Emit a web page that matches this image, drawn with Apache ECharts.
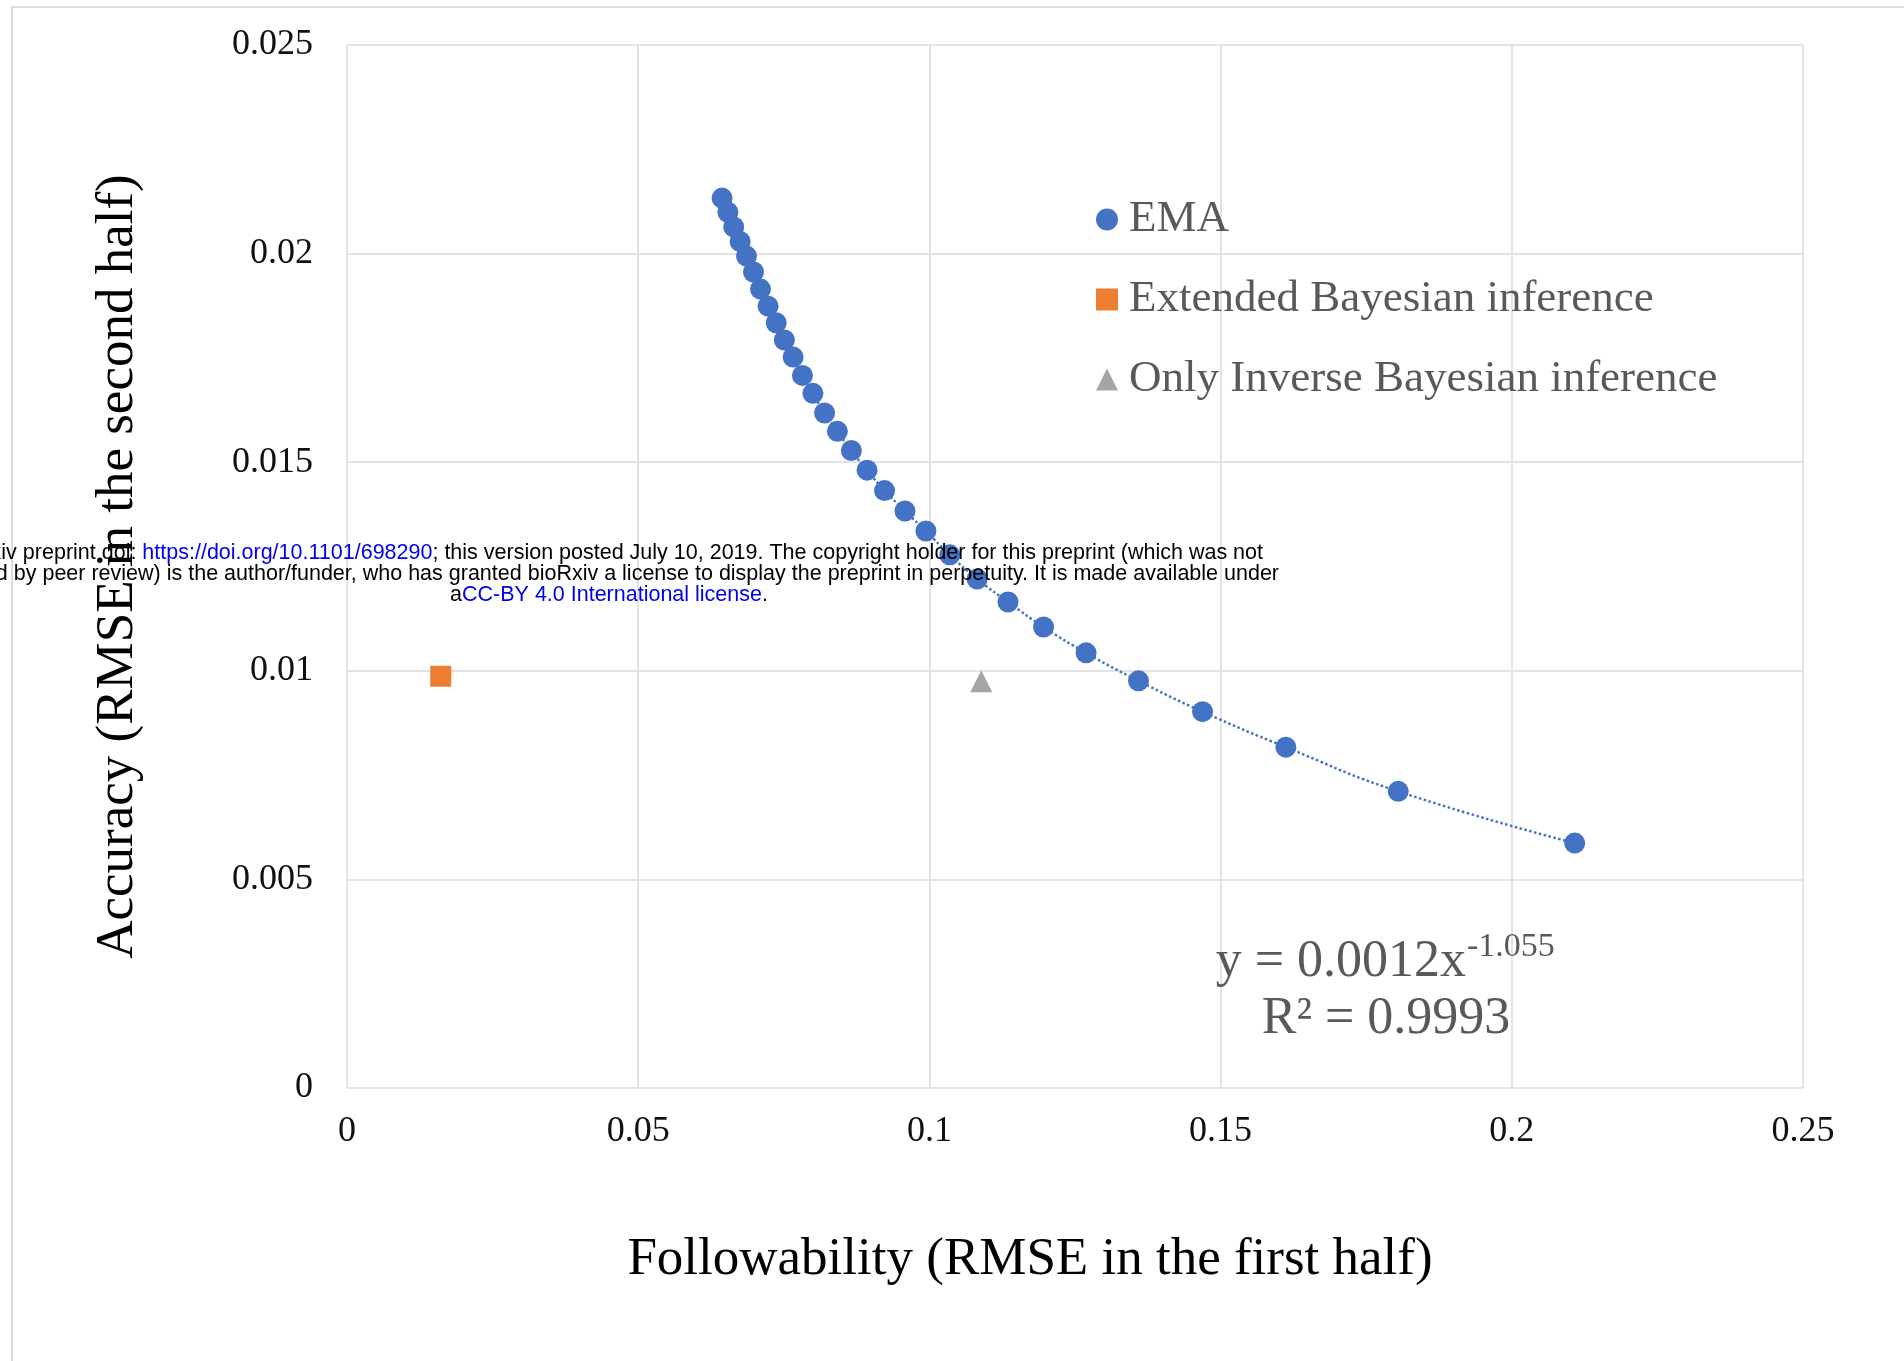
<!DOCTYPE html>
<html>
<head>
<meta charset="utf-8">
<script src="https://cdn.jsdelivr.net/npm/echarts@6/dist/echarts.min.js"></script>
<style>
  html, body { margin: 0; padding: 0; background: #fff; }
  #main { width: 1904px; height: 1361px; }
</style>
</head>
<body>
<div id="main"></div>
<script>
// EMA points (followability, accuracy)
const emaX = [0.0644, 0.0654, 0.0664, 0.0675, 0.0686, 0.0698, 0.0710, 0.0723, 0.0737, 0.0751,
  0.0766, 0.0782, 0.0800, 0.0820, 0.0842, 0.0866, 0.0893, 0.0923, 0.0958, 0.0994,
  0.1035, 0.1082, 0.1135, 0.1196, 0.1269, 0.1359, 0.1469, 0.1612, 0.1805, 0.2108]
const emaY = [0.02133, 0.02099, 0.02064, 0.02029, 0.01994, 0.01956, 0.01915, 0.01874, 0.01834, 0.01793,
  0.01752, 0.01708, 0.01665, 0.01618, 0.01574, 0.01528, 0.01481, 0.01432, 0.01383, 0.01335,
  0.01278, 0.0122, 0.01165, 0.01105, 0.01043, 0.00976, 0.00902, 0.00817, 0.00711, 0.00587]
const extX = [0.0161]
const extY = [0.00987]
const invX = [0.1089]
const invY = [0.00975]

const xTicks = [0, 0.05, 0.1, 0.15, 0.2, 0.25]
const yTicks = [0, 0.005, 0.01, 0.015, 0.02, 0.025]
const seriesNames = ['EMA', 'Extended Bayesian inference', 'Only Inverse Bayesian inference']

const serif = 'Liberation Serif, Times New Roman, serif'
const sans = 'Liberation Sans, Arial, sans-serif'
const zip = (xs, ys) => xs.map((x, i) => [x, ys[i]])
const fmt = (v) => String(+v.toFixed(4))

const chart = echarts.init(document.getElementById('main'))
const option = {
  animation: false,
  backgroundColor: '#fff',
  grid: { left: 347, right: 101, top: 45, bottom: 273 },
  legend: {
    orient: 'vertical',
    left: 1091,
    top: 192,
    itemWidth: 22,
    itemHeight: 22,
    itemGap: 35,
    data: [
      { name: seriesNames[0], icon: 'circle' },
      { name: seriesNames[1], icon: 'rect' },
      { name: seriesNames[2], icon: 'triangle' }
    ],
    textStyle: { fontFamily: serif, fontSize: 45, color: '#595959', padding: [0, 0, 0, 6] }
  },
  xAxis: {
    type: 'value',
    min: xTicks[0],
    max: xTicks[xTicks.length - 1],
    interval: xTicks[1] - xTicks[0],
    axisLine: { show: false },
    axisTick: { show: false },
    axisLabel: { margin: 26, fontFamily: serif, fontSize: 36, color: '#111', formatter: fmt },
    splitLine: { lineStyle: { color: '#e3e3e3', width: 2 } }
  },
  yAxis: {
    type: 'value',
    min: yTicks[0],
    max: yTicks[yTicks.length - 1],
    interval: yTicks[1] - yTicks[0],
    name: 'Accuracy (RMSE in the second half)',
    nameLocation: 'middle',
    nameGap: 202,
    nameTextStyle: { fontFamily: serif, fontSize: 53, color: '#000' },
    axisLine: { show: false },
    axisTick: { show: false },
    axisLabel: { margin: 34, fontFamily: serif, fontSize: 36, color: '#111', formatter: fmt },
    splitLine: { lineStyle: { color: '#e3e3e3', width: 2 } }
  },
  series: [
    {
      // trendline drawn through the EMA points
      name: 'trend',
      type: 'line',
      data: zip(emaX, emaY),
      smooth: true,
      showSymbol: false,
      silent: true,
      lineStyle: { color: '#4472C4', width: 2.5, type: 'dotted' },
      z: 1
    },
    {
      name: seriesNames[0],
      type: 'scatter',
      data: zip(emaX, emaY),
      symbol: 'circle',
      symbolSize: 21,
      itemStyle: { color: '#4472C4', opacity: 1 },
      z: 3
    },
    {
      name: seriesNames[1],
      type: 'scatter',
      data: zip(extX, extY),
      symbol: 'rect',
      symbolSize: 21,
      itemStyle: { color: '#ED7D31', opacity: 1 },
      z: 3
    },
    {
      name: seriesNames[2],
      type: 'scatter',
      data: zip(invX, invY),
      symbol: 'triangle',
      symbolSize: 22,
      itemStyle: { color: '#A5A5A5', opacity: 1 },
      z: 3
    }
  ],
  graphic: [
    // outer chart frame
    {
      type: 'rect',
      shape: { x: 12, y: 7, width: 2000, height: 2000 },
      style: { fill: 'none', stroke: '#dcdcdc', lineWidth: 2 },
      silent: true,
      z: -1
    },
    // x axis title
    {
      type: 'text',
      x: 1030, y: 1260,
      style: { text: 'Followability (RMSE in the first half)', font: '53px ' + serif, fill: '#000', textAlign: 'center', textVerticalAlign: 'middle' },
      z: 10
    },
    // fitted equation
    {
      type: 'text',
      x: 1466, y: 962,
      style: { text: 'y = 0.0012x', font: '52px ' + serif, fill: '#595959', textAlign: 'right', textVerticalAlign: 'middle' },
      z: 10
    },
    {
      type: 'text',
      x: 1467, y: 947,
      style: { text: '-1.055', font: '34px ' + serif, fill: '#595959', textAlign: 'left', textVerticalAlign: 'middle' },
      z: 10
    },
    {
      type: 'text',
      x: 1386, y: 1019,
      style: { text: 'R² = 0.9993', font: '52px ' + serif, fill: '#595959', textAlign: 'center', textVerticalAlign: 'middle' },
      z: 10
    },
    // preprint notice overlay
    {
      type: 'text',
      x: 1263, y: 553,
      style: {
        text: '{k|bioRxiv preprint doi: }{b|https://doi.org/10.1101/698290}{k|; this version posted July 10, 2019. The copyright holder for this preprint (which was not}',
        textAlign: 'right', textVerticalAlign: 'middle',
        rich: {
          k: { fontFamily: sans, fontSize: 21.5, fill: '#000' },
          b: { fontFamily: sans, fontSize: 21.5, fill: '#0000ee' }
        }
      },
      z: 20
    },
    {
      type: 'text',
      x: 1279, y: 574,
      style: {
        text: 'certified by peer review) is the author/funder, who has granted bioRxiv a license to display the preprint in perpetuity. It is made available under',
        font: '21.5px ' + sans, fill: '#000',
        textAlign: 'right', textVerticalAlign: 'middle'
      },
      z: 20
    },
    {
      type: 'text',
      x: 609, y: 595,
      style: {
        text: '{k|a}{b|CC-BY 4.0 International license}{k|.}',
        textAlign: 'center', textVerticalAlign: 'middle',
        rich: {
          k: { fontFamily: sans, fontSize: 21.5, fill: '#000' },
          b: { fontFamily: sans, fontSize: 21.5, fill: '#0000ee' }
        }
      },
      z: 20
    }
  ]
}
chart.setOption(option)
</script>
</body>
</html>
